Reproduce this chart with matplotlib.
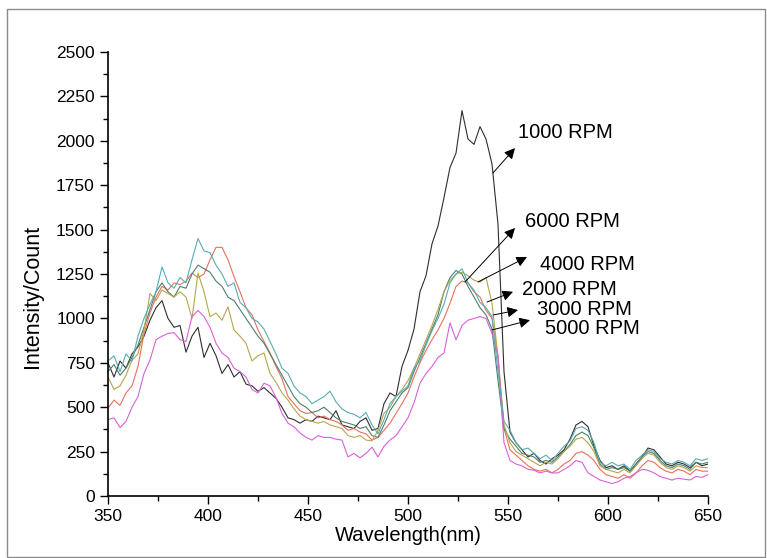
import numpy as np
import matplotlib
matplotlib.use("Agg")
from matplotlib import pyplot as plt
from matplotlib.patches import Rectangle
from matplotlib.ticker import MultipleLocator

plt.rcParams["font.family"] = ["Liberation Sans", "DejaVu Sans"]

# wavelength grid (nm), 3 nm steps from 350 to 650
wavelength = np.arange(350, 651, 3)

rpm_1000 = [
    750, 670, 760, 720, 800, 840, 900, 990, 1060, 1100,
    1000, 950, 960, 810, 900, 950, 780, 860, 790, 690,
    740, 670, 700, 630, 620, 590, 610, 580, 550, 500,
    440, 430, 410, 430, 420, 450, 440, 430, 480, 400,
    390, 380, 420, 440, 370, 380, 520, 580, 560, 730,
    820, 940, 1150, 1240, 1420, 1520, 1680, 1850, 1930, 2170,
    2010, 1980, 2080, 2010, 1870, 1530, 700, 360, 300, 260,
    220, 240, 200, 180, 210, 230, 260, 320, 400, 420,
    390, 280, 200, 160, 170, 150, 170, 140, 180, 220,
    270, 260, 220, 180, 170, 190, 180, 160, 190, 170,
    180,
]
rpm_2000 = [
    495, 540, 510, 580, 620, 730, 915, 1030, 1120, 1180,
    1160, 1200, 1190, 1210, 1255, 1230, 1250, 1330, 1400, 1400,
    1330, 1235, 1150, 1060, 1020, 935, 870, 805, 730, 660,
    560, 520, 480, 465, 470, 440, 450, 430, 420, 400,
    370, 380, 360, 350, 315, 330, 370, 410, 465, 520,
    580, 670, 750, 820, 880, 935, 1000, 1085, 1180, 1210,
    1200, 1150, 1120, 1045, 1000, 785, 380, 260, 230, 200,
    170, 150, 140, 150, 130, 150, 180, 200, 240, 250,
    230, 200, 150, 120, 110, 100, 120, 100, 130, 170,
    200, 190, 160, 140, 130, 150, 140, 120, 150, 140,
    140,
]
rpm_3000 = [
    700, 740, 680, 720, 780, 850, 950, 1050, 1150, 1200,
    1150, 1120, 1180, 1170, 1250, 1300, 1280, 1260, 1210, 1180,
    1120, 1100, 1050, 1000, 950, 900, 860, 800, 740, 680,
    620, 560, 520, 500, 470, 480, 500, 470, 440, 420,
    410, 400, 380, 390, 340, 330, 400, 480, 530, 580,
    610, 700, 780, 860, 940, 1020, 1150, 1230, 1270, 1250,
    1180, 1120, 1060, 1020, 940, 650, 380, 320, 280, 240,
    230, 220, 190, 200, 190, 220, 250, 290, 340, 360,
    340, 270, 180, 150, 160, 150, 160, 140, 180, 220,
    250, 240, 200, 170, 160, 180, 170, 150, 190, 180,
    190,
]
rpm_4000 = [
    670, 600, 620, 680, 765, 800, 935, 1140, 1100, 1160,
    1140, 1120, 1150, 1120, 1000, 1255, 1150, 1010, 1030, 990,
    1065, 935, 900, 860, 760, 790, 805, 690, 640, 580,
    540, 490, 450, 430, 420, 410, 420, 400, 390, 380,
    340, 330, 340, 315, 310, 370, 465, 500, 560, 600,
    650, 720, 800, 880, 960, 1050, 1150, 1215, 1250, 1260,
    1240, 1215, 1205, 1230, 1085, 785, 400, 300, 250, 230,
    210, 190, 170, 190, 180, 210, 250, 280, 320, 330,
    300, 250, 170, 150, 140, 130, 150, 130, 170, 210,
    240, 230, 190, 160, 150, 170, 160, 140, 170, 160,
    160,
]
rpm_5000 = [
    430, 440, 385, 420, 500, 560, 690, 765, 880, 900,
    915, 920, 880, 870, 1010, 1045, 1010, 950, 860, 805,
    780, 720, 700, 670, 600, 580, 635, 620, 555, 465,
    410, 390, 355, 330, 315, 340, 330, 330, 320, 315,
    220, 240, 215, 240, 275, 220, 280, 315, 340, 390,
    440, 525, 635, 690, 730, 780, 805, 975, 880, 960,
    990, 1000, 1010, 1000, 915, 785, 300, 200, 180, 170,
    150, 145, 130, 140, 130, 130, 150, 170, 200, 190,
    130, 110, 90, 80, 70, 80, 100, 110, 130, 150,
    145, 130, 110, 100, 90, 100, 95, 90, 110, 105,
    120,
]
rpm_6000 = [
    760, 790, 700, 800, 760, 900, 1000, 1080, 1150, 1290,
    1200, 1170, 1230, 1200, 1330, 1450, 1380, 1370, 1300, 1250,
    1180, 1200, 1090, 1060, 1000, 980, 940, 870, 800, 720,
    690, 620, 580, 560, 520, 540, 560, 590, 530, 490,
    470, 460, 440, 470, 400, 350, 430, 520, 560, 590,
    620, 720, 760, 850, 930, 1000, 1080, 1200, 1250, 1280,
    1200, 1160, 1090, 1060, 1010, 700, 420, 370, 300, 260,
    270, 240, 210, 230, 200, 240, 280, 310, 380, 390,
    370, 300, 190, 170, 190, 170, 180, 150, 200, 230,
    260, 250, 210, 190, 180, 200, 190, 170, 210, 200,
    210,
]

labels = ["1000 RPM", "2000 RPM", "3000 RPM", "4000 RPM", "5000 RPM", "6000 RPM"]
series = [rpm_1000, rpm_2000, rpm_3000, rpm_4000, rpm_5000, rpm_6000]
colors = ["#2e2e2e", "#e8705c", "#4f7f6c", "#b5a64c", "#d862d8", "#5aabb3"]

# arrow tail (on curve), arrow tip, text anchor -- in data units
annotations = [
    ("1000 RPM", (542.5, 1819), (553.5, 1959), (555.0, 2044)),
    ("6000 RPM", (528.5, 1205), (553.5, 1509), (558.5, 1543)),
    ("4000 RPM", (535.0, 1205), (559.5, 1346), (566.0, 1306)),
    ("2000 RPM", (539.5, 1092), (552.5, 1150), (557.0, 1160)),
    ("3000 RPM", (542.5, 1019), (555.0, 1047), (564.5, 1052)),
    ("5000 RPM", (542.0, 935), (561.0, 990), (568.5, 944)),
]


def main() -> None:
    fig = plt.figure(figsize=(7.67, 5.58), dpi=100)
    ax = fig.add_axes([108 / 767, 62 / 558, 600 / 767, 444 / 558])

    # thin grey frame around the whole picture
    fig.patches.append(Rectangle((7 / 767, 1 / 558), 758 / 767, 548 / 558,
                                 transform=fig.transFigure, fill=False,
                                 edgecolor="#8a8a8a", lw=1.0))

    for vals, color in zip(series, colors):
        ax.plot(wavelength, vals, color=color, lw=0.8)

    for text, tail, tip, pos in annotations:
        ax.annotate("", xy=tip, xytext=tail,
                    arrowprops=dict(arrowstyle="-|>", color="black", lw=0.7,
                                    mutation_scale=16, shrinkA=0, shrinkB=0))
        ax.text(pos[0], pos[1], text, ha="left", va="center", fontsize=14.5)

    ax.set_xlim(350, 650)
    ax.set_ylim(0, 2500)
    ax.xaxis.set_major_locator(MultipleLocator(50))
    ax.xaxis.set_minor_locator(MultipleLocator(25))
    ax.yaxis.set_major_locator(MultipleLocator(250))
    ax.yaxis.set_minor_locator(MultipleLocator(125))
    ax.tick_params(which="major", direction="out", length=6, width=1, labelsize=12.5)
    ax.tick_params(which="minor", direction="out", length=3.5, width=1)
    ax.spines["top"].set_visible(False)
    ax.spines["right"].set_visible(False)
    ax.spines["left"].set_linewidth(1.2)
    ax.spines["bottom"].set_linewidth(1.2)

    ax.set_xlabel("Wavelength(nm)", fontsize=14.5, labelpad=1)
    ax.set_ylabel("Intensity/Count", fontsize=15.5)
    ax.yaxis.set_label_coords(-0.108, 0.45)

    fig.savefig("out.png", dpi=100)


if __name__ == "__main__":
    main()
